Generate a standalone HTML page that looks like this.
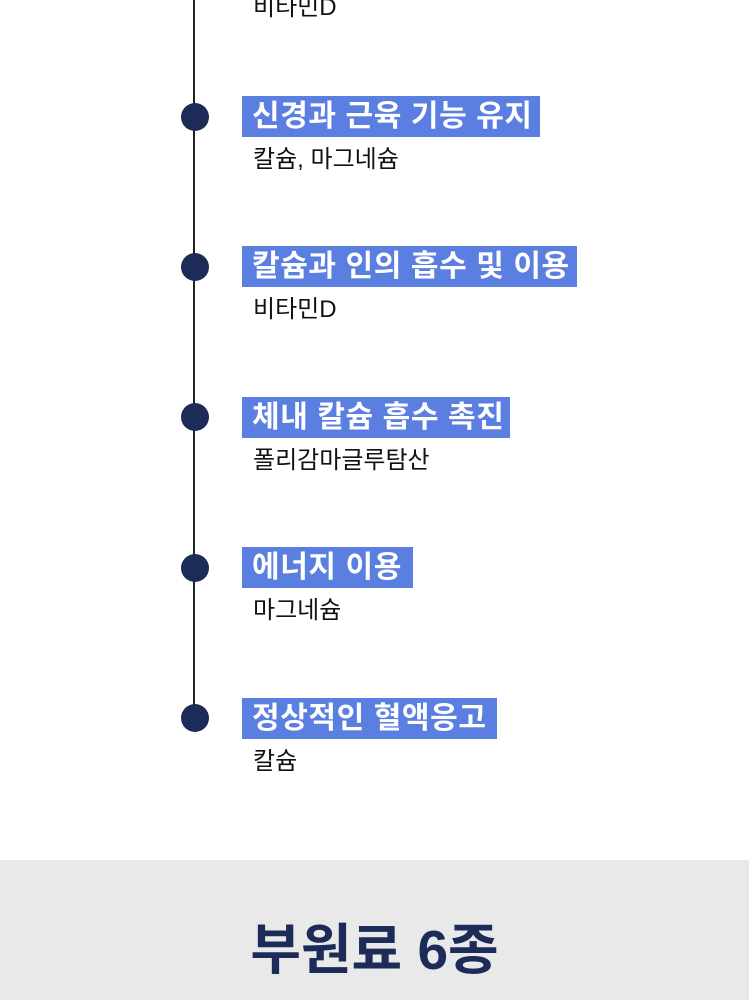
<!DOCTYPE html>
<html><head><meta charset="utf-8"><style>
body{margin:0;width:749px;height:1000px;position:relative;background:#fff;overflow:hidden;font-family:"Liberation Sans","Noto Sans CJK KR",sans-serif}
.line{position:absolute;left:193px;top:0;width:2px;height:718px;background:#222}
.dot{position:absolute;left:181px;width:28px;height:28px;border-radius:50%;background:#1c2b58}
.box{position:absolute;left:242px;height:41px;background:#5b7fe0;color:#fff;font-weight:bold;font-size:30px;line-height:41px;padding-left:10px;box-sizing:border-box;white-space:nowrap;letter-spacing:0.6px}
.sub{position:absolute;left:253px;font-size:24px;color:#111;line-height:30px;white-space:nowrap}
.band{position:absolute;left:0;top:860px;width:749px;height:140px;background:#e9e9e9}
.title{position:absolute;left:0;top:915px;width:749px;text-align:center;font-size:55px;font-weight:bold;color:#1c2b58;line-height:70px}
</style></head><body>
<div class="line"></div>
<div class="sub" style="top:-7px">비타민D</div>

<div class="dot" style="top:103px"></div>
<div class="box" style="top:96px;width:298px">신경과 근육 기능 유지</div>
<div class="sub" style="top:145px">칼슘, 마그네슘</div>

<div class="dot" style="top:253px"></div>
<div class="box" style="top:246px;width:335px">칼슘과 인의 흡수 및 이용</div>
<div class="sub" style="top:295px">비타민D</div>

<div class="dot" style="top:403px"></div>
<div class="box" style="top:397px;width:268px">체내 칼슘 흡수 촉진</div>
<div class="sub" style="top:446px">폴리감마글루탐산</div>

<div class="dot" style="top:554px"></div>
<div class="box" style="top:547px;width:171px">에너지 이용</div>
<div class="sub" style="top:596px">마그네슘</div>

<div class="dot" style="top:704px"></div>
<div class="box" style="top:698px;width:255px">정상적인 혈액응고</div>
<div class="sub" style="top:747px">칼슘</div>

<div class="band"></div>
<div class="title">부원료 6종</div>
</body></html>
